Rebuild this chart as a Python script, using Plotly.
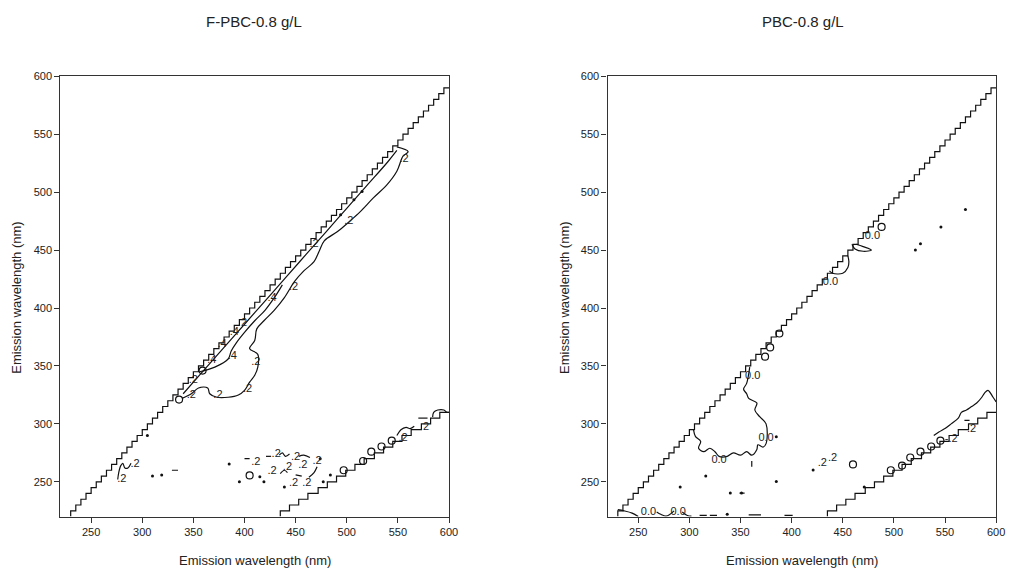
import plotly.graph_objects as go

# ---------------- data ----------------
TITLES = ["F-PBC-0.8 g/L", "PBC-0.8 g/L"]
AXIS_TITLE = "Emission wavelength (nm)"
TICKS = [250, 300, 350, 400, 450, 500, 550, 600]

# first-order scatter boundary (stair steps, 5 nm grid)
UPPER_STEP_X = [230, 235, 240, 245, 250, 255, 260, 265, 270, 275, 280, 285, 290, 295, 300,
                305, 310, 315, 320, 325, 330, 335, 340, 345, 350, 355, 360, 365, 370, 375,
                380, 385, 390, 395, 400, 405, 410, 415, 420, 425, 430, 435, 440, 445, 450,
                455, 460, 465, 470, 475, 480, 485, 490, 495, 500, 505, 510, 515, 520, 525,
                530, 535, 540, 545, 550, 555, 560, 565, 570, 575, 580, 585, 590, 595, 600]
UPPER_STEP_Y = [220, 225, 230, 235, 240, 245, 250, 255, 260, 265, 270, 275, 280, 285, 290,
                295, 300, 305, 310, 315, 320, 325, 330, 335, 340, 345, 350, 355, 360, 365,
                370, 375, 380, 385, 390, 395, 400, 405, 410, 415, 420, 425, 430, 435, 440,
                445, 450, 455, 460, 465, 470, 475, 480, 485, 490, 495, 500, 505, 510, 515,
                520, 525, 530, 535, 540, 545, 550, 555, 560, 565, 570, 575, 580, 585, 590]
# second-order scatter boundary
LOWER_STEP_X = [435, 444, 453, 462, 472, 481, 490, 499, 508, 517, 527, 536, 545, 554, 563,
                573, 582, 591, 600]
LOWER_STEP_Y = [220, 225, 230, 235, 240, 245, 250, 255, 260, 265, 270, 275, 280, 285, 290,
                295, 300, 305, 310]

# ---- F-PBC panel contour paths ----
F_MAIN_X = [549, 560, 555, 549, 539, 526, 513, 503, 491, 478, 473, 468, 458, 449, 439, 429,
            419, 412, 410, 405, 413, 413, 410, 405, 400, 394, 384, 373, 366, 364, 355, 348, 339]
F_MAIN_Y = [539, 535, 531, 518, 506, 495, 483, 475, 466, 458, 449, 440, 432, 423, 409, 398,
            389, 382, 372, 365, 360, 349, 342, 336, 329, 325, 323, 323, 326, 331, 331, 326, 322]
F_EDGE_X = [340, 356, 380, 400, 420, 440, 460, 480, 500, 520, 540, 549]
F_EDGE_Y = [326, 342, 366, 386, 406, 426, 446, 466, 486, 506, 526, 536]
F_C4_X = [356, 371, 384, 387, 392, 400, 410, 420, 430, 437]
F_C4_Y = [345, 349, 356, 363, 370, 379, 389, 398, 410, 420]
F_SQ1_X = [276, 277, 279, 281, 283, 286, 289]
F_SQ1_Y = [252, 258, 264, 266, 262, 262, 266]
F_SEG_X = [[400, 405], [421, 426], [434, 437, 440, 444], [453, 458, 464], [471, 468, 463],
           [435, 439, 442], [450, 456], [329, 335], [549, 553, 558, 562, 566], [570, 579],
           [584, 585, 589, 595, 598, 600]]
F_SEG_Y = [[270, 270], [272, 272], [273, 275, 272, 274], [272, 273, 271], [263, 258, 254],
           [257, 260, 258], [256, 255], [260, 260], [290, 295, 297, 296, 298], [305, 305],
           [306, 310, 312, 312, 310, 310]]
F_DOT_X = [305, 319, 385, 395, 415, 419, 439, 477, 474, 484, 494, 507, 515, 310]
F_DOT_Y = [290, 256, 265.5, 250, 254.5, 250, 245.5, 250, 270, 256, 480.5, 493.5, 500.5, 255]
F_LOOP_X = [359, 336, 405, 497, 516, 524, 534, 544]
F_LOOP_Y = [346, 321, 255.5, 260, 268, 276, 280.5, 285.5]
F_LBL_X = [556, 502, 468, 448, 398, 350, 348, 374, 411, 403,
           427, 390, 378, 388, 368,
           280, 293, 411, 431, 450, 471, 427, 442, 457, 448, 461, 555, 576]
F_LBL_Y = [528, 475, 455, 418, 387, 338, 325, 325, 353, 330,
           408, 379, 369, 358, 355,
           252, 265, 267, 274, 271, 268, 259, 263, 264, 249, 249, 288, 297]
F_LBL_T = [".2", ".2", ".2", ".2", ".2", ".2", ".2", ".2", ".2", ".2",
           ".4", ".4", ".4", ".4", ".4",
           ".2", ".2", ".2", ".2", ".2", ".2", ".2", ".2", ".2", ".2", ".2", ".2", ".2"]

# ---- PBC panel contour paths ----
P_MAIN_X = [304, 306, 311, 309, 314, 320, 325, 329, 337, 343, 350, 356, 361, 366, 367, 372,
            375, 375, 369, 364, 366, 358, 356, 353, 356, 359]
P_MAIN_Y = [295, 289, 285, 279, 276, 279, 276, 272, 272, 275, 273, 276, 273, 278, 282, 280,
            283, 300, 306, 312, 318, 322, 326, 330, 335, 349]
P_RISE_X = [539, 544, 550, 556, 563, 566, 571, 576, 581, 586, 589, 592, 597, 600]
P_RISE_Y = [290, 293, 296, 300, 305, 310, 312, 315, 318, 323, 327, 329, 323, 319]
P_SEG_X = [[230, 236, 244, 250], [268, 272, 277, 281, 285], [293, 298, 302],
           [459, 462, 470, 478, 470, 463], [455, 456, 455, 450, 440, 437],
           [310, 317], [320, 327], [358, 370], [393, 401], [361, 361], [569, 574], [349, 354]]
P_SEG_Y = [[226, 225, 223, 220], [224, 222, 220.5, 222, 225], [224, 221, 220.5],
           [455, 451, 449, 450, 453, 455], [445, 440, 435, 430, 430, 432],
           [221, 221], [221, 221], [221.5, 221.5], [221, 221], [263, 268], [303, 303],
           [240.3, 240.3]]
P_DOT_X = [291, 316, 340, 351, 385, 421, 471, 385, 570, 546, 526, 521, 337]
P_DOT_Y = [245.5, 255, 240.3, 240.3, 250.3, 260.3, 245.5, 289, 485, 470, 455.5, 450, 222]
P_LOOP_X = [488, 460, 526, 536.5, 545.5, 497, 508, 516, 379, 388, 374]
P_LOOP_Y = [470, 265, 276, 280.5, 285.5, 260, 264, 271, 366, 378, 358]
P_LBL_X = [329, 375, 362, 479, 438, 260, 289, 430, 440, 556, 576]
P_LBL_Y = [269, 288, 341, 462, 422, 224, 224, 266, 270.5, 287, 295]
P_LBL_T = ["0.0", "0.0", "0.0", "0.0", "0.0", "0.0", "0.0", ".2", ".2", "-.2", ".2"]

# ---------------- figure ----------------
W, H = 1020, 574
FONT = "Liberation Sans, Arial, sans-serif"
LINE = dict(color="#111111", width=1.2)

fig = go.Figure()


def add_path(xs, ys, ax, shape="linear"):
    fig.add_trace(go.Scatter(x=xs, y=ys, mode="lines", line=dict(LINE, shape=shape),
                             xaxis=ax[0], yaxis=ax[1], hoverinfo="skip", showlegend=False))


def add_panel(ax, main, extra, segs, dots, loops, labels):
    add_path(UPPER_STEP_X, UPPER_STEP_Y, ax, "vh")
    add_path(LOWER_STEP_X, LOWER_STEP_Y, ax, "vh")
    add_path(main[0], main[1], ax, "spline")
    for ex in extra:
        add_path(ex[0], ex[1], ax, "spline")
    for sx, sy in zip(*segs):
        add_path(sx, sy, ax, "spline")
    fig.add_trace(go.Scatter(x=dots[0], y=dots[1], mode="markers",
                             marker=dict(size=3, color="#111111"),
                             xaxis=ax[0], yaxis=ax[1], hoverinfo="skip", showlegend=False))
    fig.add_trace(go.Scatter(x=loops[0], y=loops[1], mode="markers",
                             marker=dict(size=7, symbol="circle-open", color="#111111",
                                         line=dict(width=1.2)),
                             xaxis=ax[0], yaxis=ax[1], hoverinfo="skip", showlegend=False))
    fig.add_trace(go.Scatter(x=labels[0], y=labels[1], text=labels[2], mode="text",
                             textfont=dict(family=FONT, size=11, color="#222222"),
                             xaxis=ax[0], yaxis=ax[1], hoverinfo="skip", showlegend=False))


add_panel(("x", "y"), (F_MAIN_X, F_MAIN_Y),
          [(F_EDGE_X, F_EDGE_Y), (F_C4_X, F_C4_Y), (F_SQ1_X, F_SQ1_Y)],
          (F_SEG_X, F_SEG_Y), (F_DOT_X, F_DOT_Y), (F_LOOP_X, F_LOOP_Y),
          (F_LBL_X, F_LBL_Y, F_LBL_T))
add_panel(("x2", "y2"), (P_MAIN_X, P_MAIN_Y),
          [(P_RISE_X, P_RISE_Y)],
          (P_SEG_X, P_SEG_Y), (P_DOT_X, P_DOT_Y), (P_LOOP_X, P_LOOP_Y),
          (P_LBL_X, P_LBL_Y, P_LBL_T))

axis_common = dict(range=[220, 600], tickvals=TICKS, ticks="outside", ticklen=5,
                   tickwidth=1.2, tickcolor="#333333", showline=True, mirror=True,
                   linecolor="#333333", linewidth=1.4, showgrid=False, zeroline=False,
                   tickfont=dict(family=FONT, size=11, color="#222222"))
ydom = [1 - 516 / H, 1 - 71 / H]
fig.update_layout(
    width=W, height=H, margin=dict(l=0, r=0, t=0, b=0),
    paper_bgcolor="white", plot_bgcolor="white",
    xaxis=dict(axis_common, domain=[61 / W, 453 / W], anchor="y"),
    yaxis=dict(axis_common, domain=ydom, anchor="x"),
    xaxis2=dict(axis_common, domain=[613 / W, 1005 / W], anchor="y2"),
    yaxis2=dict(axis_common, domain=ydom, anchor="x2"),
)

ann = []
for cx, t in zip([256, 810], TITLES):
    ann.append(dict(x=cx / W, y=1 - 16 / H, xref="paper", yref="paper", text=t,
                    xanchor="center", yanchor="middle",
                    showarrow=False, font=dict(family=FONT, size=15, color="#222222")))
for cx in [257, 809]:
    ann.append(dict(x=cx / W, y=1 - 560 / H, xref="paper", yref="paper", text=AXIS_TITLE,
                    xanchor="center", yanchor="middle",
                    showarrow=False, font=dict(family=FONT, size=13, color="#222222")))
for cx in [17, 570]:
    ann.append(dict(x=cx / W, y=1 - 295 / H, xref="paper", yref="paper", text=AXIS_TITLE,
                    xanchor="center", yanchor="middle", textangle=-90, showarrow=False,
                    font=dict(family=FONT, size=13, color="#222222")))
fig.update_layout(annotations=ann)

fig.write_html("out.html")
